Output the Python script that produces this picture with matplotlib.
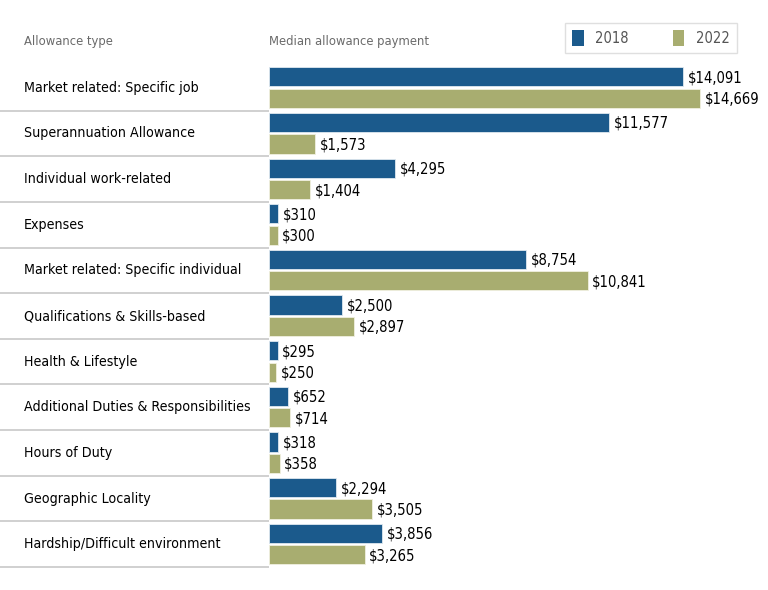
import matplotlib
matplotlib.use("Agg")
from matplotlib import pyplot as plt
from matplotlib.patches import Patch

plt.rcParams['font.family'] = ['DejaVu Sans']
plt.rcParams['font.stretch'] = 'condensed'

categories = [
    "Market related: Specific job",
    "Superannuation Allowance",
    "Individual work-related",
    "Expenses",
    "Market related: Specific individual",
    "Qualifications & Skills-based",
    "Health & Lifestyle",
    "Additional Duties & Responsibilities",
    "Hours of Duty",
    "Geographic Locality",
    "Hardship/Difficult environment",
]
values_2018 = [14091, 11577, 4295, 310, 8754, 2500, 295, 652, 318, 2294, 3856]
values_2022 = [14669, 1573, 1404, 300, 10841, 2897, 250, 714, 358, 3505, 3265]

blue = "#1b5a8c"
green = "#a8ad70"

W, H = 768, 590
fig = plt.figure(figsize=(W / 100, H / 100), dpi=100)

# bars area in pixels: x from 269 to right edge, y from 65 to 567
left_px, top_px, bottom_px = 269, 65, 567
ax = fig.add_axes([left_px / W, 1 - bottom_px / H, (W - left_px) / W, (bottom_px - top_px) / H])

n = len(categories)
ys = list(range(n))
ax.barh([y + 0.26 for y in ys], values_2018, height=0.42, color=blue, edgecolor="#dfe8f0", linewidth=0.6)
ax.barh([y + 0.73 for y in ys], values_2022, height=0.42, color=green, edgecolor="#f0f0e0", linewidth=0.6)

ax.set_xlim(0, (W - left_px) / 431 * 14669)
ax.set_ylim(n, 0)
ax.axis("off")

for y, v in zip(ys, values_2018):
    ax.text(v + 150, y + 0.28, f"${v:,}", va="center", ha="left", fontsize=10.6)
for y, v in zip(ys, values_2022):
    ax.text(v + 150, y + 0.75, f"${v:,}", va="center", ha="left", fontsize=10.6)

# category labels and separators in the left column
ytrans = ax.get_yaxis_transform()
for y, name in zip(ys, categories):
    ax.text(-245 / (W - left_px), y + 0.5, name, transform=ytrans, va="center", ha="left",
            fontsize=10.2)
ax.hlines([y + 1 for y in ys], -left_px / (W - left_px), 0, transform=ytrans,
          colors="#c8c8c8", linewidth=1.2, clip_on=False)

fig.text(24 / W, 1 - 41 / H, "Allowance type", fontsize=9.3, color="#6a6a6a", va="center")
fig.text(269 / W, 1 - 41 / H, "Median allowance payment", fontsize=9.3, color="#6a6a6a", va="center")

handles = [Patch(facecolor=blue, label="2018"), Patch(facecolor=green, label="2022")]
leg = fig.legend(handles=handles, ncol=2, loc="center", bbox_to_anchor=(651 / W, 1 - 38 / H),
                 frameon=True, fancybox=False, edgecolor="#d8d8d8", fontsize=10.5,
                 handlelength=0.8, handleheight=1.3, columnspacing=3.0, borderpad=0.5,
                 labelcolor="#555555")
leg.get_frame().set_linewidth(1.0)

fig.savefig("out.png", dpi=100)
